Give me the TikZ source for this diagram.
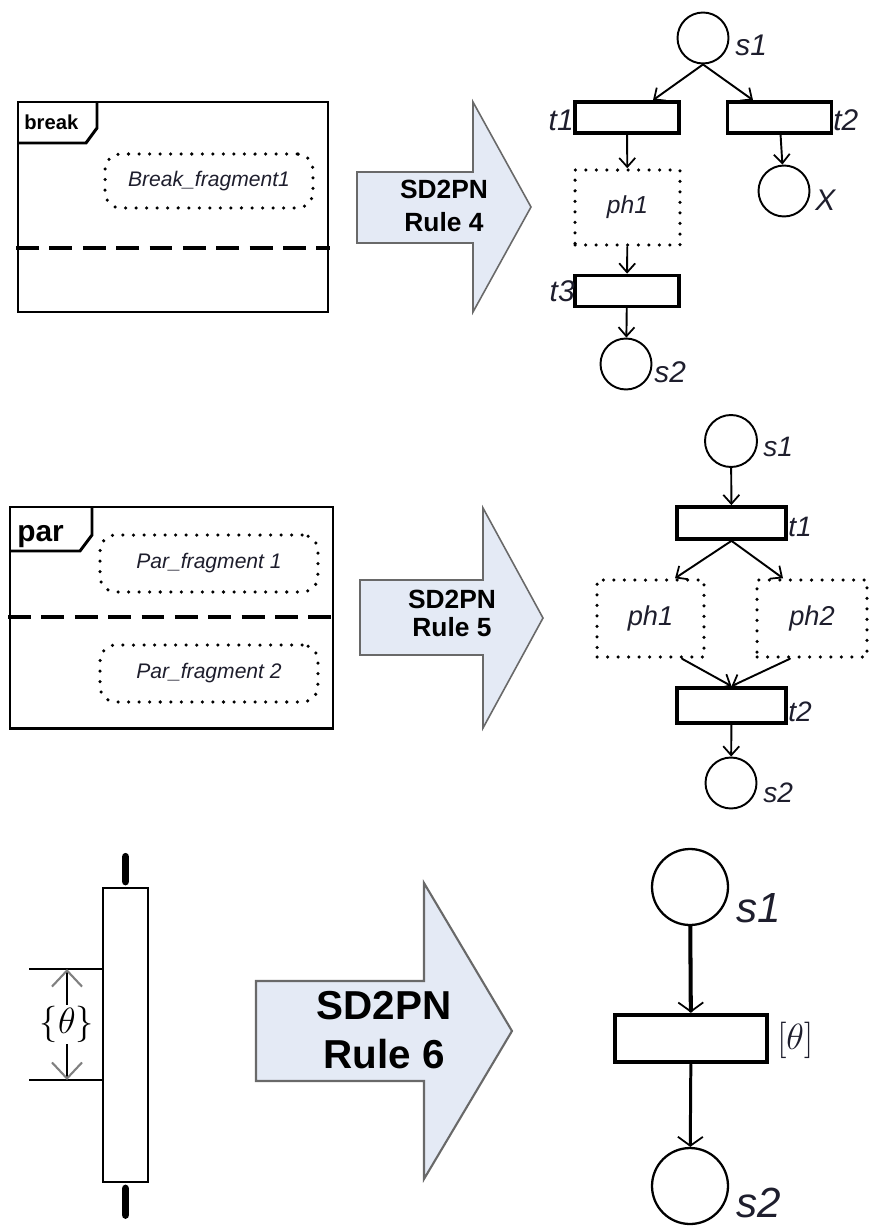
\documentclass[tikz,border=0pt]{standalone}
\usepackage{amsmath,amssymb}
\usepackage[no-math]{fontspec}
\setmainfont{Liberation Sans}
\usetikzlibrary{arrows.meta}
\usepackage{xcolor}
\definecolor{rulefill}{RGB}{228,234,245}
\definecolor{ruleline}{RGB}{105,105,105}
\definecolor{ink}{RGB}{30,30,45}

\begin{document}
\begin{tikzpicture}[x=0.02cm,y=-0.02cm,line cap=round,
  >={Straight Barb[length=1.8mm,width=3.2mm,line width=1pt]},
  place/.style={draw,circle,line width=1.1pt,minimum size=1.02cm,inner sep=0pt},
  trans/.style={draw,rectangle,line width=2.1pt,minimum width=2.08cm,minimum height=0.62cm,inner sep=0pt},
  holder/.style={draw,rectangle,line width=2pt,dash pattern=on 0pt off 6pt,inner sep=0pt,text=ink,font=\itshape\fontsize{14}{16}\selectfont},
  frag/.style={holder,rounded corners=9pt,minimum width=4.16cm,minimum height=1.08cm,font=\itshape\fontsize{12}{14}\selectfont},
  lbl/.style={inner sep=0pt,anchor=west,text=ink,font=\itshape\fontsize{#1}{#1}\selectfont},
  lbl/.default=17,
  arc/.style={->,line width=1.1pt},
  frame/.style={line width=1.7pt,line cap=butt,line join=miter},
  sep/.style={line width=2.3pt,line cap=butt,dash pattern=on 13pt off 6pt},
  rulebox/.style={fill=rulefill,draw=ruleline,line width=0.9pt,line join=miter},
  ruletext/.style={align=center,inner sep=0pt,font=\bfseries\fontsize{15}{19}\selectfont}]
\useasboundingbox (0,0) rectangle (869,1226);

\draw[frame] (18,102) rectangle (328,312);
\draw[frame] (97,102) -- (97,128) -- (86,143) -- (18,143);
\node[inner sep=0pt,anchor=base west,font=\bfseries\fontsize{11.5}{13}\selectfont] (brk) at (24,130) {break};
\node[frag] (bfrag) at (209,181) {Break\_fragment1};
\draw[sep] (16,248) -- (330,248);

\draw[rulebox] (357,172) -- (473,172) -- (473,102) -- (531,207) -- (473,312) -- (473,243) -- (357,243) -- cycle;
\node[ruletext] (rule4) at (444,206) {SD2PN\\Rule 4};

\node[place] (s1a) at (703,38) {};
\node[lbl] (s1aL) at (735,45) {s1};
\node[trans] (t1a) at (627,117.5) {};
\node[lbl,anchor=east] (t1aL) at (574,120) {t1};
\node[trans] (t2a) at (779.5,117.5) {};
\node[lbl] (t2aL) at (833,120) {t2};
\node[holder,minimum width=2.1cm,minimum height=1.5cm] (ph1a) at (627.5,207.5) {ph1};
\node[place] (xa) at (784,191) {};
\node[lbl] (xaL) at (815,200) {X};
\node[trans] (t3a) at (627,291) {};
\node[lbl,anchor=east] (t3aL) at (575,291) {t3};
\node[place] (s2a) at (626,364) {};
\node[lbl] (s2aL) at (654,372) {s2};
\draw[arc] (s1a.south) -- ([xshift=0.52cm]t1a.north);
\draw[arc] (s1a.south) -- ([xshift=-0.53cm]t2a.north);
\draw[arc] (t1a) -- (ph1a);
\draw[arc] (t2a) -- (xa);
\draw[arc] (ph1a) -- (t3a);
\draw[arc] (t3a) -- (s2a);

\draw[frame] (10,507) rectangle (333,728);
\draw[frame] (92,507) -- (92,535) -- (80,551) -- (10,551);
\node[inner sep=0pt,anchor=base west,font=\bfseries\fontsize{17}{19}\selectfont] (par) at (17,541) {par};
\node[frag,minimum width=4.36cm,minimum height=1.14cm] (pfrag1) at (209,563.5) {Par\_fragment 1};
\node[frag,minimum width=4.36cm,minimum height=1.14cm] (pfrag2) at (209,673.5) {Par\_fragment 2};
\draw[sep] (8,617) -- (333,617);

\draw[rulebox] (360,580) -- (483,580) -- (483,508) -- (543,618) -- (483,728) -- (483,655) -- (360,655) -- cycle;
\node[ruletext,font=\bfseries\fontsize{15}{16}\selectfont] (rule5) at (452,613) {SD2PN\\Rule 5};

\node[place,minimum size=1.04cm] (s1b) at (731,441) {};
\node[lbl=16] (s1bL) at (763,447) {s1};
\node[trans,minimum width=2.18cm,minimum height=0.64cm] (t1b) at (731.5,523) {};
\node[lbl=16] (t1bL) at (788,527) {t1};
\node[holder,minimum width=2.14cm,minimum height=1.54cm,font=\itshape\fontsize{15.5}{17}\selectfont] (ph1b) at (650.5,618.5) {ph1};
\node[holder,minimum width=2.2cm,minimum height=1.54cm,font=\itshape\fontsize{15.5}{17}\selectfont] (ph2b) at (812,618.5) {ph2};
\node[trans,minimum width=2.18cm,minimum height=0.7cm] (t2b) at (731.5,705.5) {};
\node[lbl=16] (t2bL) at (788,712) {t2};
\node[place] (s2b) at (731,783) {};
\node[lbl=16] (s2bL) at (763,793) {s2};
\draw[arc] (s1b) -- (t1b);
\draw[arc] (t1b.south) -- ([xshift=0.49cm]ph1b.north);
\draw[arc] (t1b.south) -- ([xshift=-0.58cm]ph2b.north);
\draw[arc] ([xshift=0.63cm]ph1b.south) -- (t2b.north);
\draw[arc] ([xshift=-0.44cm]ph2b.south) -- (t2b.north);
\draw[arc] (t2b) -- (s2b);

\node[draw,rectangle,line width=1.5pt,minimum width=0.9cm,minimum height=5.88cm,inner sep=0pt] (life) at (125.5,1035) {};
\draw[line width=4.5pt] ([yshift=3pt]life.north) -- ([yshift=17pt]life.north);
\draw[line width=4.5pt] ([yshift=-3pt]life.south) -- ([yshift=-18pt]life.south);
\coordinate (dimtop) at (67,969);
\coordinate (dimbot) at (67,1080);
\draw[line width=1.5pt,line cap=butt] (29,969) -- (life.west |- dimtop);
\draw[line width=1.5pt,line cap=butt] (29,1080) -- (life.west |- dimbot);
\draw[line width=1pt,{Straight Barb[length=3.2mm,width=6mm,line width=1.2pt,color=gray]}-{Straight Barb[length=3.2mm,width=6mm,line width=1.2pt,color=gray]}]
  (dimtop) -- node[fill=white,inner sep=1pt,font=\fontsize{20}{22}\selectfont] (theta) {$\{\theta\}$} (dimbot);

\draw[rulebox,line width=1.2pt] (256,981) -- (424,981) -- (424,883) -- (512,1031) -- (424,1179) -- (424,1081) -- (256,1081) -- cycle;
\node[ruletext,font=\bfseries\fontsize{23}{28}\selectfont] (rule6) at (384,1030) {SD2PN\\Rule 6};

\node[place,minimum size=1.52cm,line width=1.3pt] (s1c) at (690,887) {};
\node[lbl=24] (s1cL) at (736,908) {s1};
\node[trans,minimum width=3.04cm,minimum height=0.94cm,line width=2.8pt] (tc) at (691,1038.5) {};
\node[inner sep=0pt,anchor=west,text=ink,font=\fontsize{22}{24}\selectfont] (tcL) at (777,1040) {$[\theta]$};
\node[place,minimum size=1.52cm,line width=1.3pt] (s2c) at (690,1186) {};
\node[lbl=24] (s2cL) at (736,1203) {s2};
\draw[line width=2.3pt,-{Straight Barb[length=1.8mm,width=5mm,line width=1pt]}] (s1c) -- (tc);
\draw[line width=1.7pt,-{Straight Barb[length=1.8mm,width=5mm,line width=1pt]}] (tc) -- (s2c);
\end{tikzpicture}
\end{document}
